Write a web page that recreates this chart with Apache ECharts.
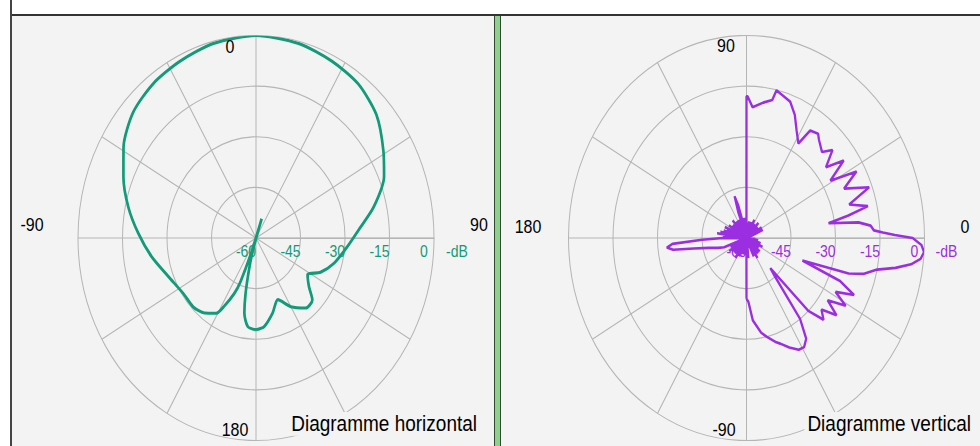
<!DOCTYPE html>
<html><head><meta charset="utf-8">
<script src="https://cdn.jsdelivr.net/npm/echarts@6/dist/echarts.min.js"></script>
<style>
html,body{margin:0;padding:0;background:#fff;width:980px;height:446px;overflow:hidden;position:relative}
.bx{position:absolute}
#chart{position:absolute;left:0;top:0;width:980px;height:392px;transform:scaleY(1.137755);transform-origin:0 0}
</style></head><body>
<div class="bx" style="left:12px;top:16px;width:482px;height:430px;background:#f3f3f3"></div>
<div class="bx" style="left:501px;top:16px;width:479px;height:430px;background:#f3f3f3"></div>
<div class="bx" style="left:11px;top:14px;width:969px;height:2px;background:#333"></div>
<div class="bx" style="left:10px;top:0;width:2px;height:446px;background:#444"></div>
<div class="bx" style="left:494px;top:16px;width:5px;height:430px;background:#8fd08f;border-left:1px solid #2f4a2f;border-right:1px solid #2f4a2f"></div>
<div id="chart"></div>
<script>
// ---- data ----
// Horizontal diagram: compass angle (deg, 0 = top, clockwise) and level (dB)
const hAngles = [-180,-174,-170,-168,-166,-164,-161.5,-160,-158,-156,-152,-149,-142,-134,-124,-111,-99,-88,-78,-68,-59,-48,-37,-26,-14,0,14,26,37,48,59,67,77,86,95,106,115,122,129,134,141,150,158,166,174,180];
const hValues = [-32.8,-33.6,-37.4,-43,-50,-56,-66,-56,-46,-42,-37.1,-34,-31.8,-30.6,-30.5,-28.3,-24.4,-20.3,-16,-11.8,-7.9,-4.3,-2.6,-1.7,-0.6,0,-0.6,-1.7,-2.8,-5.4,-9.9,-13.1,-19.3,-25.3,-29.2,-32.7,-36,-39.5,-37,-33.6,-33.3,-36.5,-40.3,-37,-33.6,-32.8];
// Vertical diagram: elevation angle (deg, 0 = right, counter-clockwise) and level (dB)
const vAngles = [-90,-88,-85,-80,-77,-72,-70,-66,-62,-59,-56,-53,-50,-48,-46,-43,-40,-37,-34,-31,-28,-25,-22,-19.5,-17,-15,-12,-10,-8,-6,-4,-2,0,1,2,3,5,7,9,11,13,16,20,24,28,31,35,38,42,45,50,52,56,58,62,66,70,74,77,78,82,87,89.5,90,
  90.5,92,94,96,98,100,102,104,106,108,110,112,114,116,118,120,122,124,126,128,130,132,134,136,138,140,142,144,146,148,150,152,154,156,158,160,162,164,166,168,170,172,174,176,178,
  180,182,184,186,188,190,193,197,200,202,204,206,208,210,212,214,216,218,220,222,224,226,228,230,232,234,236,238,240,242,244,246,248,250,252,254,256,258,260,262,264,266,268,269.5,270];
const vValues = [-42,-41,-35.5,-31.5,-30,-27.5,-26.7,-24.5,-22.5,-22.3,-24,-30,-45,-48,-30,-24.5,-27,-22,-27,-21,-26,-20,-26,-40,-24,-19,-15,-9,-4,-1,0,-1,-4,-10,-14,-17,-18,-22,-32,-25,-18,-24,-16,-24,-18,-27,-20,-26,-21,-24,-22,-20.8,-21.6,-27,-24,-20,-17,-16,-15.1,-18.2,-19.5,-21.2,-18,-18,
  -58,-64,-55,-66,-54,-63,-57,-56,-50,-47,-52,-62,-66,-54,-64,-55,-67,-54,-63,-55,-66,-53,-64,-55,-66,-54,-63,-55,-65,-53,-64,-54,-66,-52,-63,-53,-65,-52,-62,-51,-64,-50,-63,-52,-61,
  -52,-45,-35,-33,-35,-42,-47,-50,-52,-62,-66,-54,-63,-55,-66,-53,-64,-55,-65,-54,-63,-55,-66,-54,-64,-55,-65,-53,-63,-55,-66,-54,-64,-56,-65,-55,-63,-56,-65,-55,-63,-56,-62,-57,-42];
const radialTicks = [-60,-45,-30,-15,0];
const radialUnit = '-dB';
const hAngleLabels = ['0','90','180','-90'];
const vAngleLabels = ['90','0','180','-90'];
const titles = ['Diagramme horizontal','Diagramme vertical'];

// ---- styling ----
const FONT = 'Liberation Sans, Arial, sans-serif';
const GREEN = '#139a78', PURPLE = '#9b2ee0', GRID = '#b5b5b5', BG = '#f3f3f3';
const SY = 446/392;
const R = 178;
const CY = 238/SY;
const centers = [[256, CY],[746.5, CY]];

function radiusAxis(idx, color){
  return {
    polarIndex: idx, type:'value',
    min: radialTicks[0], max: radialTicks[radialTicks.length-1], interval: radialTicks[1]-radialTicks[0],
    axisLine:{show:true, lineStyle:{color:GRID, width:1}},
    axisTick:{show:false},
    axisLabel:{show:true, color:color, fontSize:14, fontFamily:FONT, margin:-12, verticalAlign:'middle', align:'center', padding:[0,20,0,0]},
    splitLine:{show:true, lineStyle:{color:GRID, width:1}},
    z: 1
  };
}
function angleAxis(idx, min, max, clockwise){
  return {
    polarIndex: idx, type:'value', min:min, max:max, interval:30, startAngle:0, clockwise:clockwise,
    axisLine:{show:false}, axisTick:{show:false}, axisLabel:{show:false},
    splitLine:{show:true, lineStyle:{color:GRID, width:1}}
  };
}
function txt(t, x, y, size, align, color, bg){
  const st = {text:t, fill:color || '#000', font: size+'px '+FONT, textAlign:align, align:align, textVerticalAlign:'middle', verticalAlign:'middle'};
  if (bg) { st.backgroundColor = BG; st.padding = [1,3]; }
  return {type:'text', x:x, y:y, z:100, style:st};
}

const hData = hAngles.map((a,i)=>[hValues[i], a < 90 ? a + 360 : a]);
const vData = vAngles.map((a,i)=>[vValues[i], a]);

const chart = echarts.init(document.getElementById('chart'), null, {renderer:'svg'});
chart.setOption({
  animation:false,
  backgroundColor:'transparent',
  polar:[{center:centers[0], radius:R},{center:centers[1], radius:R}],
  angleAxis:[angleAxis(0, 90, 450, true), angleAxis(1, 0, 360, false)],
  radiusAxis:[radiusAxis(0, GREEN), radiusAxis(1, PURPLE)],
  series:[
    {type:'line', coordinateSystem:'polar', polarIndex:0, data:hData, showSymbol:false, smooth:0.25, clip:false,
     lineStyle:{color:GREEN, width:2.7}, z:5},
    {type:'line', coordinateSystem:'polar', polarIndex:1, data:vData, showSymbol:false, smooth:false, clip:false,
     lineStyle:{color:PURPLE, width:2.3}, z:5}
  ],
  graphic:[
    txt(hAngleLabels[0], 230, 41.3, 16, 'center'),
    txt(hAngleLabels[1], 479, 197.8, 16, 'center'),
    txt(hAngleLabels[2], 235, 377.9, 16, 'center'),
    txt(hAngleLabels[3], 32, 197.8, 16, 'center'),
    txt(vAngleLabels[0], 726, 40.4, 16, 'center'),
    txt(vAngleLabels[1], 965, 199.5, 16, 'center'),
    txt(vAngleLabels[2], 528, 199.5, 16, 'center'),
    txt(vAngleLabels[3], 724, 377.9, 16, 'center'),
    txt(radialUnit, centers[0][0] + R + 12, CY + 12, 14, 'left', GREEN),
    txt(radialUnit, centers[1][0] + R + 11, CY + 12, 14, 'left', PURPLE),
    txt(titles[0], 480, 372.6, 19, 'right', '#000', true),
    txt(titles[1], 974, 372.6, 19, 'right', '#000', true)
  ]
});
</script>
</body></html>
